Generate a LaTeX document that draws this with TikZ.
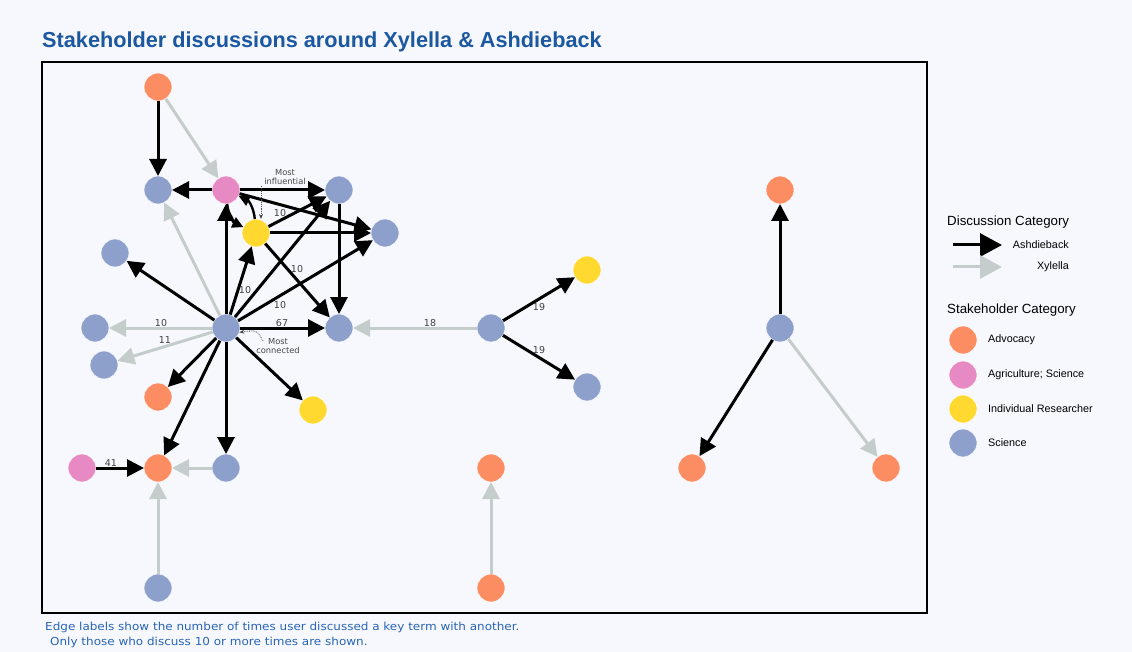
\documentclass[tikz,border=0pt]{standalone}
\usepackage{fontspec}
\setmainfont{Liberation Sans}
\newfontfamily\labelfont{DejaVu Sans}
\newfontfamily\footfont[FakeStretch=1.09]{DejaVu Sans}
\usetikzlibrary{arrows.meta}
\definecolor{bgcol}{RGB}{247,248,253}
\definecolor{advocacy}{RGB}{252,141,98}
\definecolor{agri}{RGB}{231,138,195}
\definecolor{indiv}{RGB}{255,217,47}
\definecolor{science}{RGB}{141,160,203}
\definecolor{xylcol}{RGB}{196,205,203}
\definecolor{titleblue}{RGB}{28,88,160}
\definecolor{notecol}{RGB}{40,100,180}
\definecolor{annot}{RGB}{70,70,70}
\begin{document}
\begin{tikzpicture}[x=1pt,y=-1pt,
  stake/.style={circle,minimum size=28pt,inner sep=0pt,outer sep=0pt,draw=white!70!bgcol,line width=0.6pt},
  adv/.style={stake,fill=advocacy},
  agr/.style={stake,fill=agri},
  ind/.style={stake,fill=indiv},
  sci/.style={stake,fill=science},
  ash/.style={line width=3pt,black,-{Triangle[length=17pt,width=17pt]}},
  xyl/.style={line width=3pt,xylcol,-{Triangle[length=17pt,width=17pt]}},
  ashbend/.style={line width=2.4pt,black,-{Triangle[length=11pt,width=11pt]}},
  elbl/.style={font=\labelfont\fontsize{9.5}{10}\selectfont,text=black!75,inner sep=0pt},
  note/.style={densely dotted,line width=0.8pt,annot,-{Stealth[length=5pt,width=4pt]}},
  notetxt/.style={font=\labelfont\fontsize{8.3}{9.5}\selectfont,text=annot,align=center,inner sep=0pt},
  legtitle/.style={font=\fontsize{13.3}{15}\selectfont,anchor=west,inner sep=0pt},
  legtxt/.style={font=\fontsize{10.8}{12}\selectfont,anchor=west,inner sep=0pt},
  foot/.style={anchor=base west,inner sep=0pt,text=notecol,font=\footfont\fontsize{11}{13}\selectfont},
]
% canvas
\fill[bgcol] (0,0) rectangle (1132,652);
\useasboundingbox (0,0) rectangle (1132,652);

% title and frame
\node[anchor=base west,inner sep=0pt,text=titleblue,font=\fontsize{21.7}{26}\bfseries] (title) at (42,48)
  {Stakeholder discussions around Xylella \& Ashdieback};
\draw[line width=2pt] (42,62) rectangle (927,613);

% stakeholders
\node[adv] (A1) at (158,87) {};
\node[sci] (S1) at (158,190) {};
\node[agr] (P1) at (226,190) {};
\node[sci] (S2) at (339,190) {};
\node[ind] (Y1) at (256,233) {};
\node[sci] (S3) at (385,233) {};
\node[sci] (S4) at (115,253) {};
\node[sci] (S5) at (226,328) {};
\node[sci] (S6) at (339,328) {};
\node[sci] (S7) at (95,328) {};
\node[sci] (S8) at (104,365) {};
\node[adv] (A2) at (158,397) {};
\node[ind] (Y2) at (313,410) {};
\node[agr] (P2) at (82,468) {};
\node[adv] (A3) at (158,468) {};
\node[sci] (S9) at (226,468) {};
\node[sci] (S10) at (158,588) {};
\node[sci] (S11) at (491,328) {};
\node[ind] (Y3) at (587,270) {};
\node[sci] (S12) at (587,387) {};
\node[adv] (A4) at (491,468) {};
\node[adv] (A5) at (491,588) {};
\node[adv] (A6) at (780,190) {};
\node[sci] (S13) at (780,328) {};
\node[adv] (A7) at (692,468) {};
\node[adv] (A8) at (886,468) {};

% Xylella discussions
\draw[xyl] (A1) -- (P1);
\draw[xyl] (S5) -- (S1);
\draw[xyl] (S5) -- (S7);
\draw[xyl] (S5) -- (S8);
\draw[xyl] (S11) -- (S6);
\draw[xyl] (S9) -- (A3);
\draw[xyl] (S10) -- (A3);
\draw[xyl] (A5) -- (A4);
\draw[xyl] (S13) -- (A8);

% Ashdieback discussions
\draw[ash] (A1) -- (S1);
\draw[ash] (P1) -- (S1);
\draw[ash] (P1) -- (S2);
\draw[ash] (P1) -- (S3);
\draw[ashbend] (P1) to[bend right=30] (Y1);
\draw[ashbend] (Y1) to[bend right=30] (P1);
\draw[ash] (Y1) -- (S2);
\draw[ash] (Y1) -- (S3);
\draw[ash] (Y1) -- (S6);
\draw[ash] (S5) -- (P1);
\draw[ash] (S5) -- (Y1);
\draw[ash] (S5) -- (S2);
\draw[ash] (S5) -- (S3);
\draw[ash] (S5) -- (S6);
\draw[ash] (S5) -- (S4);
\draw[ash] (S5) -- (A2);
\draw[ash] (S5) -- (A3);
\draw[ash] (S5) -- (S9);
\draw[ash] (S5) -- (Y2);
\draw[ash] (S2) -- (S6);
\draw[ash] (P2) -- (A3);
\draw[ash] (S11) -- (Y3);
\draw[ash] (S11) -- (S12);
\draw[ash] (S13) -- (A6);
\draw[ash] (S13) -- (A7);

% edge counts
\node[elbl] (l1) at (280,213) {10};
\node[elbl] (l2) at (297,269) {10};
\node[elbl] (l3) at (245,290) {10};
\node[elbl] (l4) at (280,305) {10};
\node[elbl] (l5) at (282,323) {67};
\node[elbl] (l6) at (161,323) {10};
\node[elbl] (l7) at (165,340) {11};
\node[elbl] (l8) at (430,323) {18};
\node[elbl] (l9) at (539,307) {19};
\node[elbl] (l10) at (539,350) {19};
\node[elbl] (l11) at (111,463) {41};

% annotations
\node[notetxt] (infl) at (285,177) {Most\\influential};
\coordinate (inflfrom) at (261,186);
\draw[note] (inflfrom) -- (inflfrom |- Y1.north);
\node[notetxt] (conn) at (278,346) {Most\\connected};
\coordinate (connfrom) at (263,341);
\draw[note] (connfrom) .. controls (257,330) .. (S5.-18);

% legend: discussion category
\node[legtitle] (lgd1) at (947,222) {Discussion Category};
\coordinate (la1) at (953,245);
\coordinate (la2) at (1002,245);
\draw[line width=3pt,black,-{Triangle[length=22pt,width=23pt]}] (la1) -- (la2);
\node[legtxt,anchor=east] (lash) at (1069,245) {Ashdieback};
\coordinate (lx1) at (953,267);
\coordinate (lx2) at (1002,267);
\draw[line width=3pt,xylcol,-{Triangle[length=22pt,width=23pt]}] (lx1) -- (lx2);
\node[legtxt,anchor=east] (lxyl) at (1069,267) {Xylella};

% legend: stakeholder category
\node[legtitle] (lgd2) at (947,310) {Stakeholder Category};
\node[adv] (k1) at (963,340) {};
\node[legtxt] (k1t) at (988,340) {Advocacy};
\node[agr] (k2) at (963,375) {};
\node[legtxt] (k2t) at (988,375) {Agriculture; Science};
\node[ind] (k3) at (963,409) {};
\node[legtxt] (k3t) at (988,409) {Individual Researcher};
\node[sci] (k4) at (963,443) {};
\node[legtxt] (k4t) at (988,443) {Science};

% footnote
\node[foot] (foot1) at (45,630)
  {Edge labels show the number of times user discussed a key term with another.};
\node[foot] (foot2) at (50,645)
  {Only those who discuss 10 or more times are shown.};
\end{tikzpicture}
\end{document}
